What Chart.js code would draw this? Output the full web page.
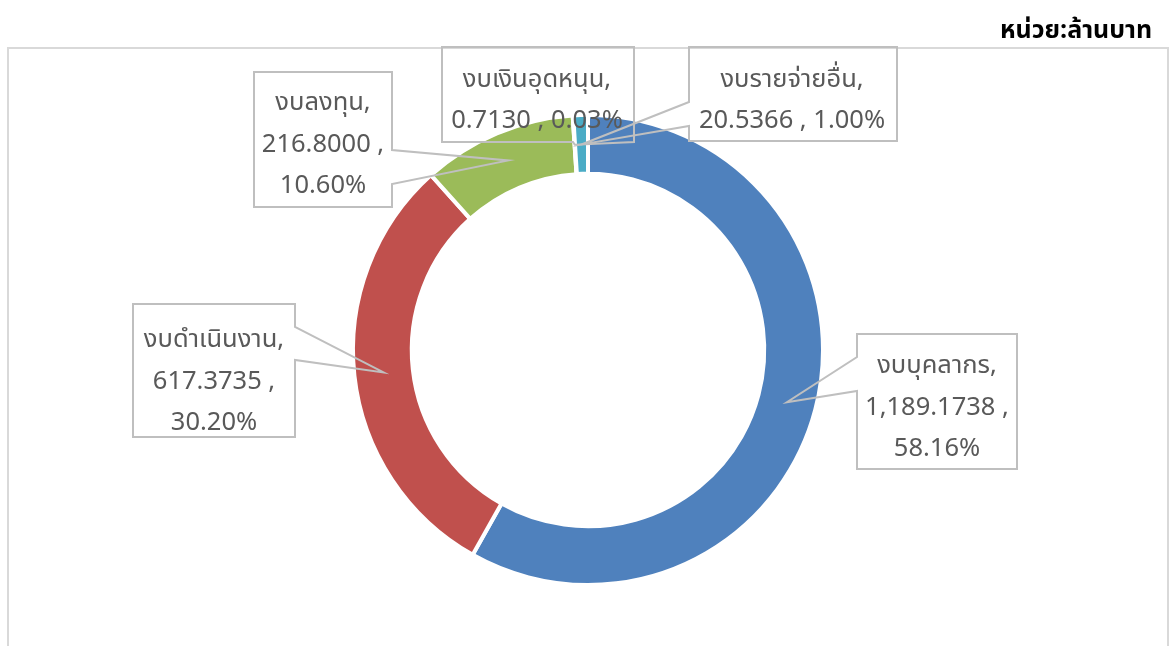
<!DOCTYPE html>
<html>
<head>
<meta charset="utf-8">
<script src="https://cdn.jsdelivr.net/npm/chart.js@4.4.1/dist/chart.umd.min.js"></script>
<style>
  html, body { margin: 0; padding: 0; background: #ffffff; }
  #wrap { position: relative; width: 1176px; height: 646px; overflow: hidden; }
  canvas { display: block; }
</style>
</head>
<body>
<div id="wrap"><canvas id="c" width="1176" height="646"></canvas></div>
<script>
// ---- data ----
const categories = ['งบบุคลากร', 'งบดำเนินงาน', 'งบลงทุน', 'งบเงินอุดหนุน', 'งบรายจ่ายอื่น'];
const amounts = [1189.1738, 617.3735, 216.8000, 0.7130, 20.5366];
const amountText = ['1,189.1738', '617.3735', '216.8000', '0.7130', '20.5366'];
const percentText = ['58.16%', '30.20%', '10.60%', '0.03%', '1.00%'];
const unitTitle = 'หน่วย:ล้านบาท';

// ---- styles ----
const sliceColors = ['#4F81BD', '#C0504D', '#9BBB59', '#8064A2', '#4BACC6'];
const FONT = "'Noto Sans Thai', 'Leelawadee UI', Tahoma, 'Noto Sans', 'DejaVu Sans', sans-serif";

// callout layout (box rectangles, wedge side and wedge span, text baselines)
const calloutLayout = [
  { box: [857, 334, 1017, 469], side: 'left',   wedge: [357, 391], cx: 937, base: [373, 415, 456], lines: 3 },
  { box: [133, 304, 295, 437],  side: 'right',  wedge: [327, 360], cx: 214, base: [347, 389, 430], lines: 3 },
  { box: [254, 72, 392, 207],   side: 'right',  wedge: [150, 184], cx: 323, base: [110, 152, 193], lines: 3 },
  { box: [442, 47, 634, 142],   side: 'bottom', wedge: [573, 634], cx: 537, base: [87, 128],       lines: 2 },
  { box: [689, 47, 897, 141],   side: 'left',   wedge: [102, 126], cx: 792, base: [87, 128],       lines: 2 }
];

function labelLines(i, n) {
  const name = categories[i] + ',';
  if (n === 3) return [name, amountText[i] + ' ,', percentText[i]];
  return [name, amountText[i] + ' , ' + percentText[i]];
}

const framePlugin = {
  id: 'frame',
  beforeDraw(chart) {
    const ctx = chart.ctx;
    ctx.save();
    ctx.fillStyle = '#ffffff';
    ctx.fillRect(0, 0, chart.width, chart.height);
    ctx.strokeStyle = '#D9D9D9';
    ctx.lineWidth = 2;
    ctx.strokeRect(8, 48, 1160, 700);
    // unit title
    ctx.fillStyle = '#000000';
    ctx.font = 'bold 25px ' + FONT;
    ctx.textAlign = 'right';
    ctx.textBaseline = 'alphabetic';
    ctx.fillText(unitTitle, 1152, 38);
    ctx.restore();
  }
};

const calloutPlugin = {
  id: 'callouts',
  afterDatasetsDraw(chart) {
    const ctx = chart.ctx;
    const meta = chart.getDatasetMeta(0);
    ctx.save();
    meta.data.forEach((arc, i) => {
      const L = calloutLayout[i];
      const p = arc.tooltipPosition();
      const [x1, y1, x2, y2] = L.box;
      const [a, b] = L.wedge;
      ctx.beginPath();
      if (L.side === 'left') {
        ctx.moveTo(x1, y1); ctx.lineTo(x2, y1); ctx.lineTo(x2, y2); ctx.lineTo(x1, y2);
        ctx.lineTo(x1, b); ctx.lineTo(p.x, p.y); ctx.lineTo(x1, a);
      } else if (L.side === 'right') {
        ctx.moveTo(x1, y1); ctx.lineTo(x2, y1); ctx.lineTo(x2, a); ctx.lineTo(p.x, p.y);
        ctx.lineTo(x2, b); ctx.lineTo(x2, y2); ctx.lineTo(x1, y2);
      } else {
        ctx.moveTo(x1, y1); ctx.lineTo(x2, y1); ctx.lineTo(x2, y2); ctx.lineTo(b, y2);
        ctx.lineTo(p.x, p.y); ctx.lineTo(a, y2); ctx.lineTo(x1, y2);
      }
      ctx.closePath();
      ctx.strokeStyle = '#BFBFBF';
      ctx.lineWidth = 2;
      ctx.stroke();

      ctx.fillStyle = '#595959';
      ctx.font = '25.5px ' + FONT;
      ctx.textAlign = 'center';
      ctx.textBaseline = 'alphabetic';
      labelLines(i, L.lines).forEach((t, k) => ctx.fillText(t, L.cx, L.base[k]));
    });
    ctx.restore();
  }
};

new Chart(document.getElementById('c'), {
  type: 'doughnut',
  data: {
    labels: categories,
    datasets: [{
      data: amounts,
      backgroundColor: sliceColors,
      borderColor: '#ffffff',
      borderWidth: 4,
      hoverOffset: 0
    }]
  },
  options: {
    responsive: false,
    animation: false,
    events: [],
    cutout: '75%',
    radius: 235,
    rotation: 0,
    layout: { padding: { top: 117, bottom: 63, left: 0, right: 0 } },
    plugins: {
      legend: { display: false },
      tooltip: { enabled: false },
      title: { display: false }
    }
  },
  plugins: [framePlugin, calloutPlugin]
});
</script>
</body>
</html>
